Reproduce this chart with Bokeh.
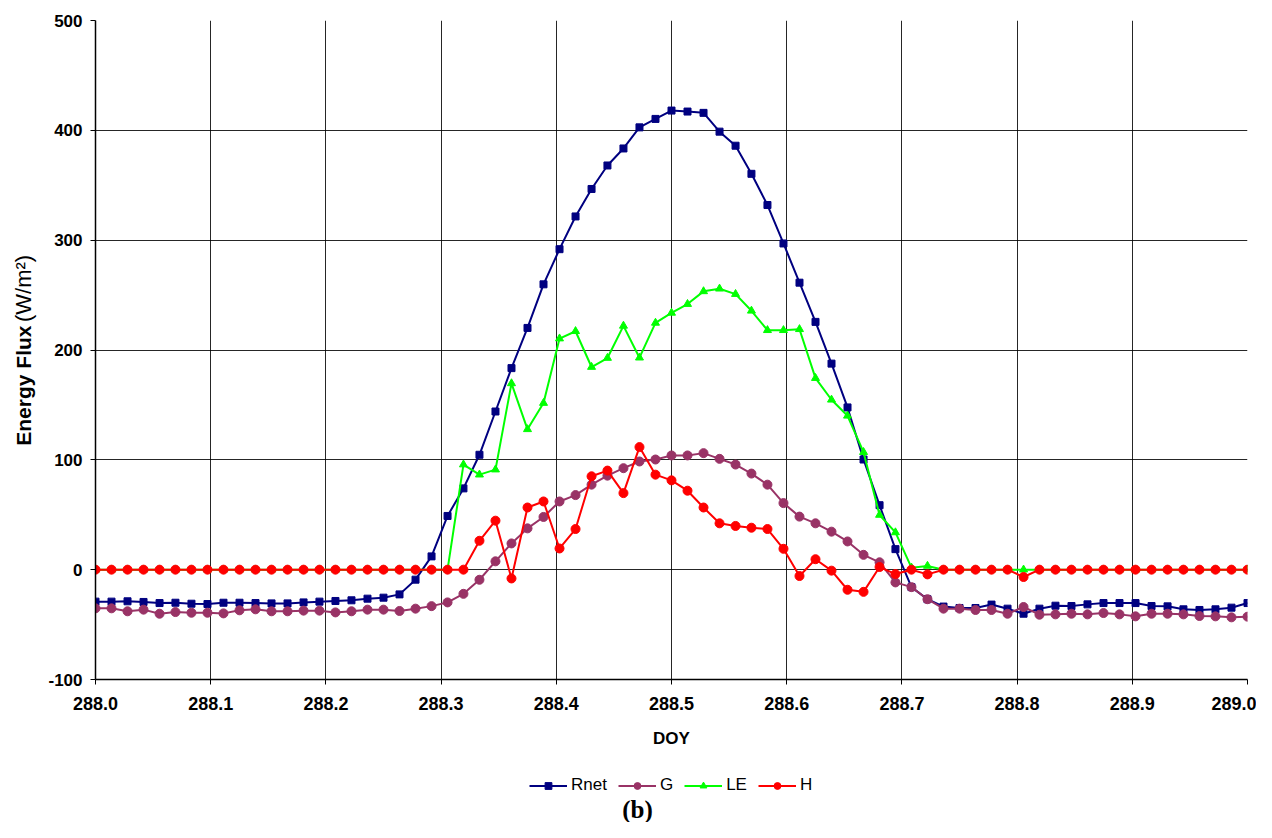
import math
import numpy as np
from bokeh.plotting import figure
from bokeh.layouts import row, column
from bokeh.models import Range1d, Legend, LegendItem, NumeralTickFormatter, FixedTicker
from bokeh.core.properties import value
from bokeh.embed import file_html
from bokeh.resources import INLINE

doy = [288.0000, 288.0139, 288.0278, 288.0417, 288.0556, 288.0694, 288.0833, 288.0972,
       288.1111, 288.1250, 288.1389, 288.1528, 288.1667, 288.1806, 288.1944, 288.2083,
       288.2222, 288.2361, 288.2500, 288.2639, 288.2778, 288.2917, 288.3056, 288.3194,
       288.3333, 288.3472, 288.3611, 288.3750, 288.3889, 288.4028, 288.4167, 288.4306,
       288.4444, 288.4583, 288.4722, 288.4861, 288.5000, 288.5139, 288.5278, 288.5417,
       288.5556, 288.5694, 288.5833, 288.5972, 288.6111, 288.6250, 288.6389, 288.6528,
       288.6667, 288.6806, 288.6944, 288.7083, 288.7222, 288.7361, 288.7500, 288.7639,
       288.7778, 288.7917, 288.8056, 288.8194, 288.8333, 288.8472, 288.8611, 288.8750,
       288.8889, 288.9028, 288.9167, 288.9306, 288.9444, 288.9583, 288.9722, 288.9861,
       289.0000]

rnet = [-29.1, -29.1, -28.8, -29.4, -30.4, -30.1, -31.0, -31.3, -30.1, -30.1, -30.4, -30.7,
        -30.7, -29.8, -29.1, -28.5, -27.9, -26.4, -25.5, -22.5, -9.1, 12.1, 48.9, 74.0,
        104.6, 144.0, 183.5, 220.1, 259.8, 291.8, 321.6, 346.6, 368.0, 383.5, 402.7, 410.4,
        418.0, 417.1, 415.9, 398.8, 386.0, 360.4, 332.0, 297.0, 261.3, 225.6, 187.6, 147.7,
        100.3, 58.7, 18.7, -15.9, -26.9, -33.6, -34.9, -34.9, -31.8, -35.5, -40.1, -35.5,
        -32.8, -33.1, -31.6, -30.4, -30.4, -30.4, -33.1, -33.4, -36.1, -36.7, -36.1, -34.6,
        -30.4]

g = [-35.2, -35.2, -37.9, -36.4, -40.1, -38.6, -39.2, -39.2, -39.8, -37.0, -36.1, -37.9,
     -37.9, -37.3, -37.3, -38.9, -37.9, -36.4, -36.4, -37.6, -35.5, -33.2, -29.8, -22.0,
     -9.2, 7.6, 23.9, 37.6, 48.0, 62.1, 67.9, 77.4, 85.6, 92.4, 98.5, 100.3,
     104.0, 104.0, 106.1, 100.9, 95.7, 87.5, 77.4, 60.6, 48.3, 42.2, 34.6, 25.7,
     13.5, 6.7, -11.6, -15.9, -26.9, -35.5, -35.5, -36.7, -36.7, -40.1, -34.0, -41.0,
     -40.7, -40.1, -40.7, -39.5, -40.7, -42.5, -40.1, -40.1, -40.7, -42.2, -42.5, -43.4,
     -42.8]

le = [0, 0, 0, 0, 0, 0, 0, 0, 0, 0, 0, 0,
      0, 0, 0, 0, 0, 0, 0, 0, 0, 0, 0, 95.7,
      86.5, 91.1, 169.6, 127.8, 151.7, 210.4, 217.1, 184.5, 192.7, 222.0, 193.0, 224.7,
      233.8, 241.8, 253.4, 255.8, 250.9, 235.7, 218.0, 218.0, 218.9, 174.4, 154.7, 140.1,
      107.0, 49.8, 33.9, 1.8, 3.4, 0, 0, 0, 0, 0, 0, 0,
      0, 0, 0, 0, 0, 0, 0, 0, 0, 0, 0, 0,
      0]

h = [0, 0, 0, 0, 0, 0, 0, 0, 0, 0, 0, 0,
     0, 0, 0, 0, 0, 0, 0, 0, 0, 0, 0, 0,
     26.3, 44.6, -8.0, 56.6, 62.1, 19.3, 37.0, 85.0, 90.2, 69.7, 111.6, 86.5,
     81.3, 71.9, 56.6, 42.2, 39.8, 38.2, 37.0, 19.0, -5.8, 9.5, -0.9, -18.3,
     -20.2, 2.4, -4.0, 0, -4.3, 0, 0, 0, 0, 0, -6.7, 0,
     0, 0, 0, 0, 0, 0, 0, 0, 0, 0, 0, 0,
     0]

series_names = ["Rnet", "G", "LE", "H"]
x_ticks = [288.0, 288.1, 288.2, 288.3, 288.4, 288.5, 288.6, 288.7, 288.8, 288.9, 289.0]
y_ticks = [-100, 0, 100, 200, 300, 400, 500]

FONT = "Liberation Sans"
TOP_H = 754       # height of the plot row
LEFT_W = 40       # strip that carries the y-axis title
BOTTOM_H = 68     # strip that carries legend and panel letter

# ---------------- main plot ----------------
p = figure(width=1216, height=TOP_H, x_range=Range1d(288.0, 289.0), y_range=Range1d(-100, 500),
           output_backend="svg", toolbar_location=None,
           min_border_left=55, min_border_right=9, min_border_top=20, min_border_bottom=75)
p.outline_line_color = None

p.xaxis.ticker = FixedTicker(ticks=x_ticks)
p.yaxis.ticker = FixedTicker(ticks=y_ticks)
p.xaxis.formatter = NumeralTickFormatter(format="0.0")
p.yaxis.formatter = NumeralTickFormatter(format="0")
for ax in (p.xaxis, p.yaxis):
    ax.axis_line_color = "black"
    ax.axis_line_width = 1.5
    ax.major_tick_line_color = "black"
    ax.major_tick_in = 0
    ax.major_tick_out = 5
    ax.minor_tick_line_color = None
    ax.major_label_text_font = FONT
    ax.major_label_text_font_style = "bold"
    ax.major_label_text_color = "black"
p.xaxis.major_label_text_font_size = "18px"
p.yaxis.major_label_text_font_size = "17px"
p.xaxis.major_label_standoff = 12
p.yaxis.major_label_standoff = 8

p.xaxis.axis_label = "DOY"
p.xaxis.axis_label_text_font = FONT
p.xaxis.axis_label_text_font_style = "bold"
p.xaxis.axis_label_text_font_size = "17px"
p.xaxis.axis_label_text_color = "black"
p.xaxis.axis_label_standoff = 16

p.xgrid.ticker = FixedTicker(ticks=x_ticks)
p.ygrid.ticker = FixedTicker(ticks=y_ticks)
for gr in (p.xgrid, p.ygrid):
    gr.grid_line_color = "black"
    gr.grid_line_width = 1
    gr.grid_line_alpha = 0.85

styles = [
    ("#000080", "square", 7),
    ("#993366", "circle", 9),
    ("#00FF00", "triangle", 8),
    ("#FF0000", "circle", 9),
]
for ys, (col, mk, sz) in zip([rnet, g, le, h], styles):
    p.line(doy, ys, line_color=col, line_width=2)
    p.scatter(doy, ys, marker=mk, size=sz, fill_color=col, line_color=col)

# ---------------- y-axis title strip ----------------
lf = figure(width=LEFT_W, height=TOP_H, x_range=Range1d(0, LEFT_W), y_range=Range1d(TOP_H, 0),
            output_backend="svg", toolbar_location=None, x_axis_type=None, y_axis_type=None,
            min_border=0)
lf.outline_line_color = None
lf.text(x=[23], y=[349], text=["Energy Flux"], angle=math.pi / 2,
        text_align="right", text_baseline="middle", text_font=value(FONT),
        text_font_style="bold", text_font_size=value("21px"), text_color="black")
lf.text(x=[23], y=[345], text=["(W/m\u00b2)"], angle=math.pi / 2,
        text_align="left", text_baseline="middle", text_font=value(FONT),
        text_font_size=value("22px"), text_color="black")

# ---------------- legend / panel letter strip ----------------
bf = figure(width=LEFT_W + 1216, height=BOTTOM_H, x_range=Range1d(0, LEFT_W + 1216),
            y_range=Range1d(BOTTOM_H, 0), output_backend="svg", toolbar_location=None,
            x_axis_type=None, y_axis_type=None, min_border=0)
bf.outline_line_color = None
empty = np.array([np.nan])
items = []
for name, (col, mk, sz) in zip(series_names, styles):
    ln = bf.line(x=empty, y=empty, line_color=col, line_width=2)
    sc = bf.scatter(x=empty, y=empty, marker=mk, size=sz, fill_color=col, line_color=col)
    items.append(LegendItem(label=name, renderers=[ln, sc]))
legend = Legend(items=items, orientation="horizontal", location=(529, 27),
                glyph_width=38, glyph_height=17, label_height=17, label_width=0,
                label_standoff=4, spacing=11, padding=0, margin=0,
                border_line_color=None, background_fill_alpha=0,
                label_text_font=FONT, label_text_font_size="17px", label_text_color="black")
bf.add_layout(legend, "center")
bf.text(x=[637], y=[55], text=["(b)"], text_align="center", text_baseline="middle",
        text_font=value("Liberation Serif"), text_font_style="bold",
        text_font_size=value("25px"), text_color="black")

layout = column(row(lf, p), bf)
open("out.html", "w").write(file_html(layout, INLINE))
